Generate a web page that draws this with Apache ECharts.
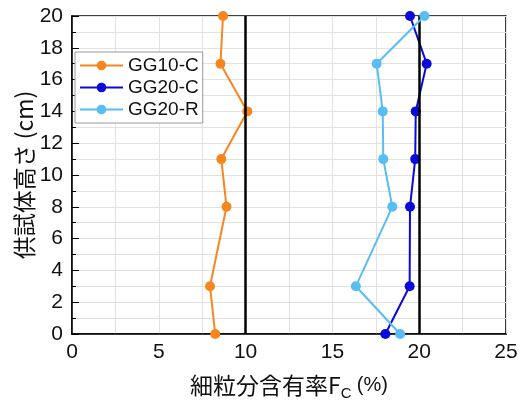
<!DOCTYPE html>
<html>
<head>
<meta charset="utf-8">
<script src="https://cdn.jsdelivr.net/npm/echarts@6/dist/echarts.min.js"></script>
<style>
  html, body { margin: 0; padding: 0; background: #fff; }
  #chart { width: 528px; height: 401px; }
</style>
</head>
<body>
<div id="chart"></div>
<script>
// Specimen heights (cm) at which fines content was measured
const heights = [0, 3, 8, 11, 14, 17, 20];

// Fines content Fc (%) per specimen, bottom to top
const gg10c = [8.25, 7.95, 8.9, 8.6, 10.1, 8.55, 8.7];
const gg20c = [18.05, 19.45, 19.47, 19.77, 19.8, 20.43, 19.47];
const gg20r = [18.9, 16.35, 18.45, 17.93, 17.9, 17.55, 20.3];

// Reference fines contents marked with vertical lines
const refLines = [10, 20];

const seriesNames = ['GG10-C', 'GG20-C', 'GG20-R'];
const seriesColors = ['#F7861E', '#0A0ADC', '#58BDF2'];
const seriesData = [gg10c, gg20c, gg20r];

const font = '"Liberation Sans", Arial, "Noto Sans CJK JP", sans-serif';
const cjkFont = '"Noto Sans CJK JP", "Liberation Sans", sans-serif';

const series = seriesData.map((vals, i) => ({
  name: seriesNames[i],
  type: 'line',
  data: vals.map((v, k) => [v, heights[k]]),
  symbol: 'circle',
  symbolSize: 10,
  lineStyle: { width: 2, color: seriesColors[i] },
  itemStyle: { color: seriesColors[i] },
  z: 3 + i,
  clip: false
}));

// Thick black reference lines
series.push({
  type: 'line',
  data: [],
  silent: true,
  markLine: {
    symbol: ['none', 'none'],
    silent: true,
    label: { show: false },
    lineStyle: { color: '#000', width: 2.5, type: 'solid' },
    data: refLines.map(v => ({ xAxis: v }))
  },
  z: 10
});

const chart = echarts.init(document.getElementById('chart'), null, { renderer: 'canvas' });
chart.setOption({
  animation: false,
  backgroundColor: '#fff',
  grid: {
    left: 72, right: 22, top: 16, bottom: 67,
    outerBoundsMode: 'none',
    containLabel: false,
    show: true, borderColor: '#000', borderWidth: 1.5, backgroundColor: 'transparent'
  },
  legend: {
    orient: 'vertical',
    left: 75, top: 52,
    data: seriesNames,
    itemWidth: 43, itemHeight: 12,
    itemGap: 3,
    padding: [4, 4, 4, 4],
    backgroundColor: '#fff',
    borderColor: '#9a9a9a',
    borderWidth: 1,
    textStyle: { fontFamily: font, fontSize: 19, color: '#111' }
  },
  xAxis: {
    type: 'value',
    min: 0, max: 25, interval: 5,
    name: '細粒分含有率F{sub|C} {pct|(%)}',
    nameLocation: 'middle',
    nameGap: 36,
    nameMoveOverlap: false,
    nameTextStyle: {
      fontFamily: cjkFont, fontSize: 23, color: '#111',
      rich: {
        sub: { fontFamily: font, fontSize: 15, color: '#111', verticalAlign: 'bottom', padding: [16, 0, 0, 0] },
        pct: { fontFamily: font, fontSize: 20, color: '#111' }
      }
    },
    axisLine: { show: true, lineStyle: { color: '#000', width: 1.5 } },
    axisTick: { show: false },
    axisLabel: { fontFamily: font, fontSize: 21, color: '#111', margin: 8 },
    splitLine: { show: true, lineStyle: { color: '#e2e2e2', width: 1 } },
    minorTick: { show: false, splitNumber: 2 },
    minorSplitLine: { show: true, lineStyle: { color: '#e2e2e2', width: 1 } }
  },
  yAxis: {
    type: 'value',
    min: 0, max: 20, interval: 2,
    name: '供試体高さ (cm)',
    nameLocation: 'middle',
    nameGap: 36,
    nameMoveOverlap: false,
    nameRotate: 90,
    nameTextStyle: { fontFamily: cjkFont, fontSize: 23, color: '#111' },
    axisLine: { show: true, lineStyle: { color: '#000', width: 1.5 } },
    axisTick: { show: true, inside: true, length: 7, lineStyle: { color: '#000', width: 1 } },
    minorTick: { show: true, splitNumber: 2, length: 4, lineStyle: { color: '#000', width: 1 } },
    axisLabel: { fontFamily: font, fontSize: 21, color: '#111', margin: 9 },
    splitLine: { show: true, lineStyle: { color: '#e2e2e2', width: 1 } },
    minorSplitLine: { show: true, lineStyle: { color: '#e2e2e2', width: 1 } }
  },
  series: series
});
</script>
</body>
</html>
